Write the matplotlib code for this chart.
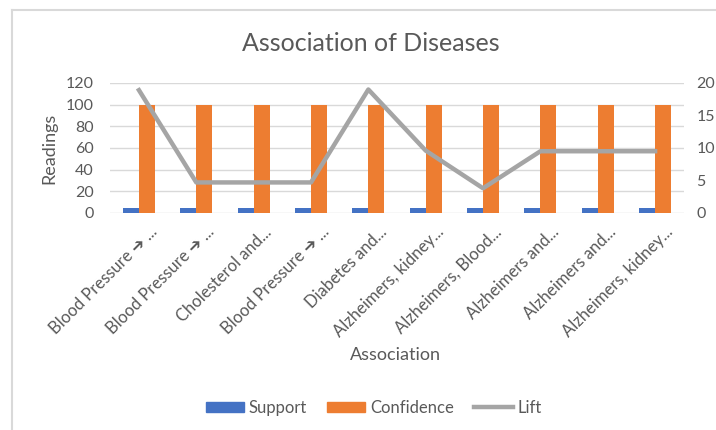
import numpy as np
import matplotlib.pyplot as plt
import matplotlib.transforms as mtransforms
from matplotlib.lines import Line2D

plt.rcParams['font.family'] = ['Lato', 'DejaVu Sans']

# association rules (labels truncated the way the sheet shows them)
associations = [
    "Blood Pressure \u2794 ...",
    "Blood Pressure \u2794 ...",
    "Cholesterol and...",
    "Blood Pressure \u2794 ...",
    "Diabetes and...",
    "Alzheimers, kidney...",
    "Alzheimers, Blood...",
    "Alzheimers and...",
    "Alzheimers and...",
    "Alzheimers, kidney...",
]
support = [5, 5, 5, 5, 5, 5, 5, 5, 5, 5]
confidence = [100, 100, 100, 100, 100, 100, 100, 100, 100, 100]
lift = [18.9, 4.7, 4.7, 4.7, 19.0, 9.6, 3.8, 9.5, 9.5, 9.5]

blue = '#4472C4'
orange = '#ED7D31'
grey = '#A5A5A5'
text_col = '#595959'

fig = plt.figure(figsize=(7.16, 4.30), dpi=100)
ax = fig.add_axes([0.154, 0.5047, 0.801, 0.3023])

x = np.arange(len(associations))
w = 0.28
ax.bar(x - w / 2, support, w, color=blue, label='Support', zorder=2)
ax.bar(x + w / 2, confidence, w, color=orange, label='Confidence', zorder=2)

ax.set_xlim(-0.5, len(associations) - 0.5)
ax.set_ylim(0, 120)
ax.set_yticks(range(0, 121, 20))
ax.grid(axis='y', color='#D9D9D9', linewidth=1, zorder=0)
ax.set_axisbelow(True)
for s in ax.spines.values():
    s.set_visible(False)
ax.tick_params(axis='both', length=0, colors=text_col)
ax.tick_params(axis='y', pad=12, labelsize=11.5)
ax.set_xticks(x)
ax.set_xticklabels(associations, rotation=45, ha='right', rotation_mode='anchor',
                   fontsize=12)
# nudge the slanted labels so their ends sit just under each category
shift = mtransforms.ScaledTranslation(10 / 100, -6 / 100, fig.dpi_scale_trans)
for lbl in ax.get_xticklabels():
    lbl.set_transform(lbl.get_transform() + shift)

ax.set_ylabel('Readings', color=text_col, fontsize=13, labelpad=6)
ax.set_xlabel('Association', color=text_col, fontsize=13)
ax.xaxis.set_label_coords(0.498, -1.03)

ax2 = ax.twinx()
ax2.plot(x, lift, color=grey, linewidth=3.2, label='Lift', zorder=3)
ax2.set_ylim(0, 20)
ax2.set_yticks(range(0, 21, 5))
for s in ax2.spines.values():
    s.set_visible(False)
ax2.tick_params(axis='y', length=0, colors=text_col, labelsize=11.5, pad=9)

fig.suptitle('Association of Diseases', x=0.518, y=0.925, fontsize=18, color=text_col)

handles = [
    plt.Rectangle((0, 0), 1, 1, color=blue),
    plt.Rectangle((0, 0), 1, 1, color=orange),
    Line2D([0], [0], color=grey, linewidth=3.2),
]
fig.legend(handles, ['Support', 'Confidence', 'Lift'], loc='center',
           bbox_to_anchor=(0.522, 0.051), ncol=3, frameon=False,
           fontsize=12, labelcolor=text_col, handlelength=2.3,
           handleheight=0.6, columnspacing=1.2, handletextpad=0.3)

# chart frame, only the top and left edges fall inside the image
fig.add_artist(Line2D([12 / 716, 12 / 716], [0, 1 - 10 / 430], color='#D9D9D9', linewidth=1.5))
fig.add_artist(Line2D([12 / 716, 1], [1 - 10 / 430, 1 - 10 / 430], color='#D9D9D9', linewidth=1.5))

fig.savefig('out.png', dpi=100)
